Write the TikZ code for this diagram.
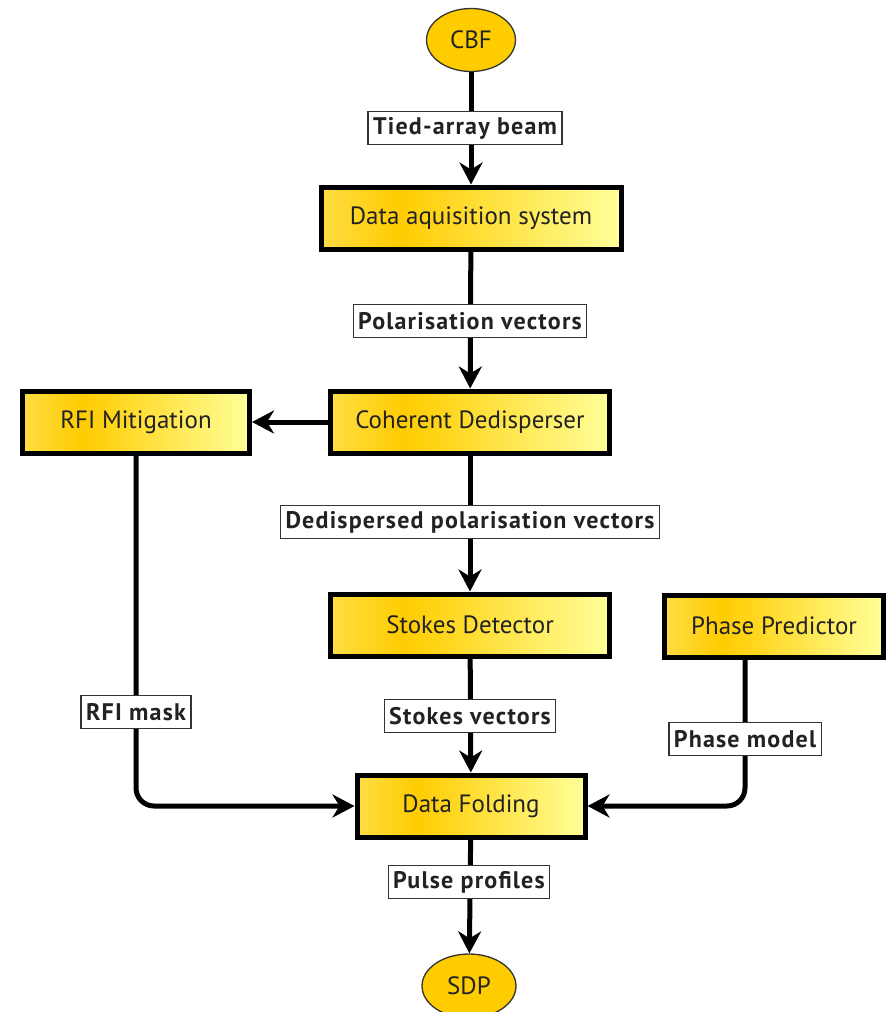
\documentclass[tikz,border=0pt]{standalone}
\usepackage{fontspec}
\setmainfont{PT Sans}
\newfontfamily\labfont[LetterSpace=5]{PT Sans}
\usetikzlibrary{arrows.meta,shapes.geometric}
\definecolor{gA}{HTML}{FFDE45}
\definecolor{gB}{HTML}{FFCC00}
\definecolor{gC}{HTML}{FFFF99}
\definecolor{gold}{HTML}{FFCC00}
\definecolor{ink}{HTML}{222222}
\pgfdeclarehorizontalshading{goldbox}{100bp}{color(0bp)=(gA); color(25bp)=(gA); color(38bp)=(gB); color(75bp)=(gC); color(100bp)=(gC)}
\tikzset{
  procbox/.style={draw=black, line width=5pt, shading=goldbox, minimum height=62pt, font=\fontsize{25}{29}\selectfont, text=ink, inner sep=0pt},
  term/.style={ellipse, draw=black!80, line width=1.3pt, fill=gold, minimum width=89pt, minimum height=63pt, inner sep=0pt, font=\fontsize{25}{29}\selectfont, text=ink},
  lab/.style={draw=black!80, line width=1.3pt, fill=white, font=\labfont\bfseries\fontsize{24}{28}\selectfont, text=ink, inner xsep=5pt, minimum height=33pt, inner ysep=0pt},
  conn/.style={line width=5pt, -{Stealth[length=22pt,width=23pt,inset=7pt]}}
}
\begin{document}
\begin{tikzpicture}[x=1pt,y=-1pt]
\useasboundingbox (0,0) rectangle (891,1012);
\node[term] (cbf) at (471,40) {CBF};
\node[procbox, minimum width=300pt] (daq) at (471,218) {Data aquisition system};
\node[procbox, minimum width=279pt] (cd) at (470,422) {Coherent Dedisperser};
\node[procbox, minimum width=227pt] (rfi) at (136,422) {RFI Mitigation};
\node[procbox, minimum width=279pt] (sd) at (470,625) {Stokes Detector};
\node[procbox, minimum width=219pt] (pp) at (774,626) {Phase Predictor};
\node[procbox, minimum width=228pt] (fold) at (471,806) {Data Folding};
\node[term, minimum width=94pt, minimum height=64pt] (sdp) at (469,986) {SDP};
\coordinate (pmx) at (745,0);

\draw[conn] (cbf) -- (daq);
\draw[conn] (daq) -- (cd);
\draw[conn] (cd) -- (rfi);
\draw[conn] (cd) -- (sd);
\draw[conn] (sd) -- (fold);
\draw[conn] (fold) -- (sdp);
\draw[conn, rounded corners=18pt] (rfi.south) |- (fold.west);
\draw[conn, rounded corners=18pt] (pp.south -| pmx) |- (fold.east);

\node[lab] (l1) at (465,128) {Tied-array beam};
\node[lab] (l2) at (470,321) {Polarisation vectors};
\node[lab] (l3) at (470,522) {Dedispersed polarisation vectors};
\node[lab] (l4) at (470,716) {Stokes vectors};
\node[lab] (l5) at (745,739) {Phase model};
\node[lab] (l6) at (136,712) {RFI mask};
\node[lab] (l7) at (469,882) {Pulse profiles};
\end{tikzpicture}
\end{document}
